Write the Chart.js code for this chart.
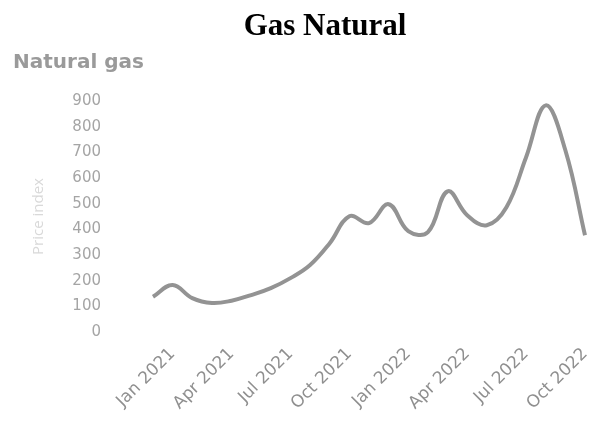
<!DOCTYPE html>
<html>
<head>
<meta charset="utf-8">
<script src="https://cdn.jsdelivr.net/npm/chart.js"></script>
<style>
  body { margin: 0; background: #fff; }
  .wrap { position: relative; width: 595px; height: 421px; }
  .heading { position: absolute; left: 0; top: 7px; width: 650px; text-align: center;
             font: bold 31px "Liberation Serif", "Times New Roman", serif; color: #000; }
</style>
</head>
<body>
<div class="wrap">
  <canvas id="gasChart" width="595" height="421"></canvas>
  <div class="heading">Gas Natural</div>
</div>
<script>
  const months = ['Dec 2020', 'Jan 2021', 'Feb 2021', 'Mar 2021', 'Apr 2021', 'May 2021', 'Jun 2021',
    'Jul 2021', 'Aug 2021', 'Sep 2021', 'Oct 2021', 'Nov 2021', 'Dec 2021', 'Jan 2022', 'Feb 2022',
    'Mar 2022', 'Apr 2022', 'May 2022', 'Jun 2022', 'Jul 2022', 'Aug 2022', 'Sep 2022', 'Oct 2022'];
  const priceIndex = [137, 183, 132, 113, 122, 144, 171, 210, 261, 346, 451, 424, 498, 393, 389,
    548, 455, 416, 486, 681, 883, 708, 377];
  const shownLabels = ['Jan', 'Apr', 'Jul', 'Oct'];

  let ctx = document.getElementById('gasChart').getContext('2d');
  let gasChart = new Chart(ctx, {
    type: 'line',
    data: {
      labels: months,
      datasets: [{
        label: 'Natural gas',
        data: priceIndex,
        borderColor: '#939393',
        borderWidth: 4,
        pointRadius: 0,
        tension: 0.4,
        fill: false
      }]
    },
    options: {
      responsive: false,
      animation: false,
      layout: { padding: { left: 13, right: 10, top: 0, bottom: 0 } },
      plugins: {
        legend: { display: false },
        tooltip: { enabled: false },
        title: {
          display: true,
          text: 'Natural gas',
          align: 'start',
          color: '#9a9a9a',
          font: { family: 'DejaVu Sans', size: 20, weight: 'bold' },
          padding: { top: 51, bottom: 26 }
        }
      },
      scales: {
        x: {
          grid: { display: false, drawTicks: false },
          border: { display: false },
          ticks: {
            autoSkip: false,
            minRotation: 45,
            maxRotation: 45,
            padding: 12,
            color: '#8f8f8f',
            font: { family: 'DejaVu Sans', size: 17 },
            callback: function (value) {
              let label = this.getLabelForValue(value);
              return shownLabels.includes(label.slice(0, 3)) ? label : '';
            }
          },
          afterFit: function (scale) {
            scale.height = 89;
            scale.paddingLeft = 0;
            scale.paddingRight = 0;
          }
        },
        y: {
          min: 0,
          max: 900,
          grid: { display: false, drawTicks: false },
          border: { display: false },
          ticks: {
            stepSize: 100,
            padding: 52,
            color: '#a5a5a5',
            font: { family: 'DejaVu Sans', size: 15 }
          },
          title: {
            display: true,
            text: 'Price index',
            color: '#d9d9d9',
            font: { family: 'Open Sans', size: 15 },
            padding: { top: 17, bottom: 0 }
          },
          afterFit: function (scale) { scale.width = 140; }
        }
      }
    }
  });
</script>
</body>
</html>
